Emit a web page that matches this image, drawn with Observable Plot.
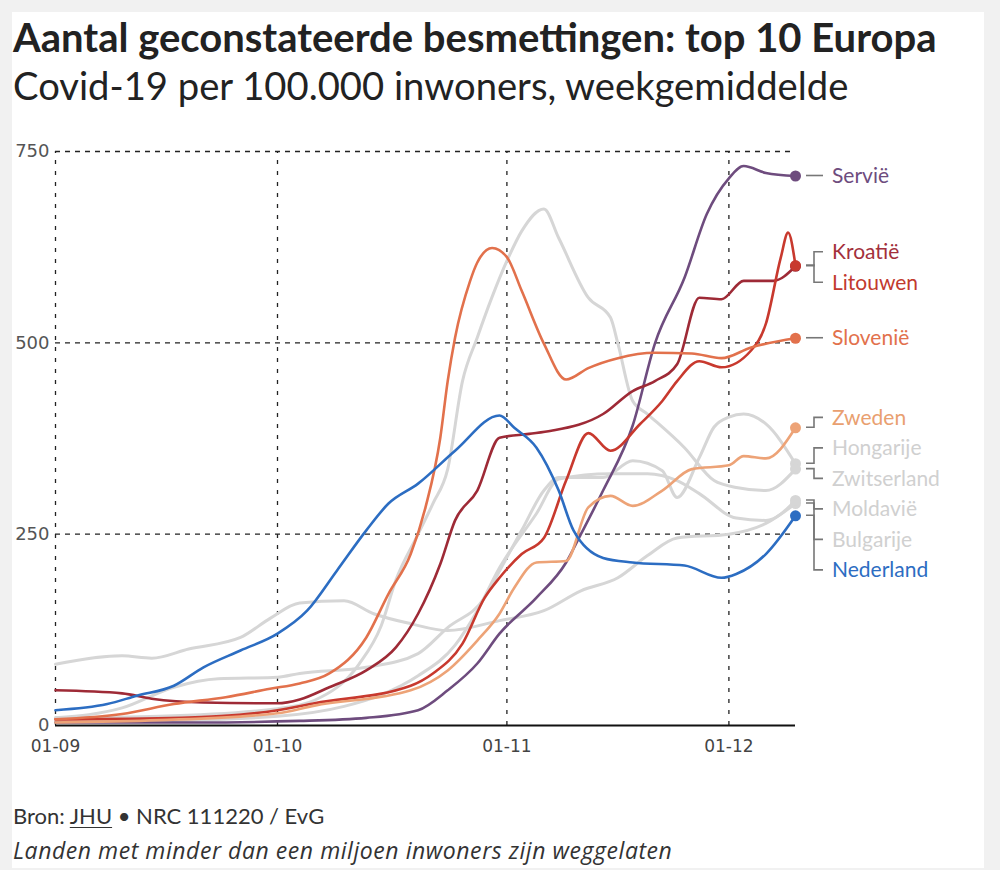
<!DOCTYPE html>
<html><head><meta charset="utf-8">
<script src="https://cdn.jsdelivr.net/npm/d3@7"></script>
<script src="https://cdn.jsdelivr.net/npm/@observablehq/plot@0.6"></script>
<style>
body{margin:0;background:#f1f1f1;width:1000px;height:870px;overflow:hidden;font-family:Lato,"Noto Sans",sans-serif;position:relative}
#card{position:absolute;left:12px;top:12px;width:972px;height:856px;background:#fff}
#title{position:absolute;left:13px;top:13px;font-weight:700;font-size:40px;line-height:48px;color:#222;white-space:nowrap}
#subtitle{position:absolute;left:13px;top:62px;font-size:38.2px;line-height:46px;color:#222;white-space:nowrap}
#chart{position:absolute;left:0;top:120px}
#src{position:absolute;left:13px;top:802px;font-size:22px;line-height:28px;color:#333;white-space:nowrap}
#src u{text-decoration-thickness:1px;text-underline-offset:3px}
#note{position:absolute;left:13px;top:835px;font-family:"Open Sans",sans-serif;font-size:23px;letter-spacing:0.55px;line-height:30px;font-style:italic;color:#333;white-space:nowrap}
</style></head>
<body>
<div id="card"></div>
<div id="title">Aantal geconstateerde besmettingen: top 10 Europa</div>
<div id="subtitle">Covid-19 per 100.000 inwoners, weekgemiddelde</div>
<div id="chart"></div>
<div id="src">Bron: <u>JHU</u> • NRC 111220 / EvG</div>
<div id="note">Landen met minder dan een miljoen inwoners zijn weggelaten</div>
<script>
// ---- data (date, cases per 100.000, weekly average) ----
const servie = [["2020-09-01",4],["2020-09-20",4],["2020-10-04",6],["2020-10-13",10],["2020-10-20",20],["2020-10-24",46],["2020-10-28",81],["2020-10-31",120],["2020-11-05",167],["2020-11-09",213],["2020-11-11",250],["2020-11-14",307],["2020-11-18",392],["2020-11-21",499],["2020-11-25",585],["2020-11-28",668],["2020-12-01",715],["2020-12-03",731],["2020-12-06",722],["2020-12-10",718]];
const kroatie = [["2020-09-01",46],["2020-09-10",42],["2020-09-14",35],["2020-09-21",30],["2020-10-01",29],["2020-10-04",34],["2020-10-08",50],["2020-10-13",72],["2020-10-17",102],["2020-10-20",146],["2020-10-23",211],["2020-10-25",268],["2020-10-28",307],["2020-10-31",376],["2020-11-04",381],["2020-11-07",385],["2020-11-14",407],["2020-11-18",437],["2020-11-21",450],["2020-11-24",472],["2020-11-27",559],["2020-11-30",557],["2020-12-03",581],["2020-12-07",581],["2020-12-10",600]];
const litouwen = [["2020-09-01",8],["2020-09-18",10],["2020-10-01",20],["2020-10-06",29],["2020-10-19",52],["2020-10-22",68],["2020-10-26",107],["2020-10-29",167],["2020-10-31",193],["2020-11-03",224],["2020-11-06",245],["2020-11-09",320],["2020-11-12",382],["2020-11-15",359],["2020-11-19",394],["2020-11-22",424],["2020-11-24",450],["2020-11-27",476],["2020-11-30",468],["2020-12-04",490],["2020-12-06",525],["2020-12-08",611],["2020-12-09",644],["2020-12-10",601]];
const slovenie = [["2020-09-01",8],["2020-09-10",15],["2020-09-17",28],["2020-09-24",37],["2020-09-30",48],["2020-10-04",55],["2020-10-08",68],["2020-10-13",115],["2020-10-16",172],["2020-10-19",224],["2020-10-21",285],["2020-10-23",376],["2020-10-24",450],["2020-10-25",507],["2020-10-27",580],["2020-10-28",605],["2020-10-30",624],["2020-11-01",612],["2020-11-03",568],["2020-11-06",499],["2020-11-09",452],["2020-11-12",467],["2020-11-16",480],["2020-11-21",487],["2020-11-26",486],["2020-11-30",480],["2020-12-04",494],["2020-12-10",506]];
const zweden = [["2020-09-01",4],["2020-09-15",7],["2020-10-01",16],["2020-10-06",26],["2020-10-19",46],["2020-10-24",72],["2020-10-28",111],["2020-10-31",146],["2020-11-02",180],["2020-11-05",213],["2020-11-09",215],["2020-11-12",285],["2020-11-15",300],["2020-11-18",287],["2020-11-22",307],["2020-11-26",335],["2020-12-01",340],["2020-12-03",352],["2020-12-06",349],["2020-12-10",389]];
const hongarije = [["2020-09-01",10],["2020-09-10",23],["2020-09-17",50],["2020-09-23",61],["2020-10-01",63],["2020-10-04",68],["2020-10-13",76],["2020-10-20",94],["2020-10-24",128],["2020-10-29",167],["2020-10-31",202],["2020-11-03",255],["2020-11-06",307],["2020-11-08",324],["2020-11-14",324],["2020-11-18",346],["2020-11-22",333],["2020-11-24",298],["2020-11-27",350],["2020-11-29",390],["2020-12-01",403],["2020-12-03",407],["2020-12-06",394],["2020-12-10",342]];
const zwitserland = [["2020-09-01",10],["2020-09-15",12],["2020-10-01",22],["2020-10-06",33],["2020-10-12",80],["2020-10-15",130],["2020-10-17",190],["2020-10-20",250],["2020-10-22",290],["2020-10-24",335],["2020-10-26",450],["2020-10-28",507],["2020-10-30",560],["2020-11-01",607],["2020-11-03",646],["2020-11-06",675],["2020-11-08",637],["2020-11-12",559],["2020-11-15",533],["2020-11-16",499],["2020-11-18",424],["2020-11-20",407],["2020-11-25",363],["2020-11-29",320],["2020-12-02",311],["2020-12-06",307],["2020-12-10",335]];
const moldavie = [["2020-09-01",80],["2020-09-10",91],["2020-09-14",88],["2020-09-19",100],["2020-09-26",115],["2020-09-30",140],["2020-10-04",160],["2020-10-10",163],["2020-10-14",146],["2020-10-19",133],["2020-10-24",124],["2020-10-31",137],["2020-11-06",150],["2020-11-11",176],["2020-11-16",193],["2020-11-20",222],["2020-11-24",245],["2020-12-01",250],["2020-12-06",264],["2020-12-10",290]];
const bulgarije = [["2020-09-01",5],["2020-09-15",6],["2020-10-01",12],["2020-10-10",25],["2020-10-15",40],["2020-10-20",65],["2020-10-25",105],["2020-10-28",150],["2020-10-31",206],["2020-11-05",277],["2020-11-08",322],["2020-11-15",329],["2020-11-20",329],["2020-11-24",320],["2020-11-27",303],["2020-12-02",271],["2020-12-06",268],["2020-12-10",294]];
const nederland = [["2020-09-01",20],["2020-09-08",28],["2020-09-12",39],["2020-09-17",52],["2020-09-21",76],["2020-09-26",98],["2020-10-01",120],["2020-10-05",150],["2020-10-09",202],["2020-10-13",255],["2020-10-16",290],["2020-10-20",316],["2020-10-25",359],["2020-10-31",405],["2020-11-02",389],["2020-11-05",363],["2020-11-08",307],["2020-11-10",255],["2020-11-14",219],["2020-11-18",213],["2020-11-25",209],["2020-11-30",193],["2020-12-02",198],["2020-12-06",224],["2020-12-10",274]];

const countries = ["Servië","Kroatië","Litouwen","Slovenië","Zweden","Hongarije","Zwitserland","Moldavië","Bulgarije","Nederland"];
const seriesData = [servie,kroatie,litouwen,slovenie,zweden,hongarije,zwitserland,moldavie,bulgarije,nederland];
const lineColors = ["#6e4c7e","#9e2a36","#c8392e","#e2714c","#eda377","#d6d6d6","#d6d6d6","#d6d6d6","#d6d6d6","#2c6dc2"];
const labelColors = ["#6e4c7e","#a3303c","#c23a2e","#e2714c","#e9a070","#d0d0d0","#d0d0d0","#d0d0d0","#d0d0d0","#2c6dc2"];
const yTicks = [0,250,500,750];
const xTicks = ["2020-09-01","2020-10-01","2020-11-01","2020-12-01"];
const xDomain = ["2020-09-01","2020-12-10"];

// ---- build rows ----
const parse = d3.utcParse("%Y-%m-%d");
const rows = [];
seriesData.forEach((s, i) => s.forEach(([d, v]) => rows.push({country: countries[i], date: parse(d), value: v, color: lineColors[i], grey: lineColors[i] === "#d6d6d6"})));
const lastRows = seriesData.map((s, i) => ({country: countries[i], date: parse(s[s.length-1][0]), value: s[s.length-1][1], color: lineColors[i], grey: lineColors[i] === "#d6d6d6"}));
const tickDates = xTicks.map(parse);
const fmt = d3.utcFormat("%d-%m");

const plot = Plot.plot({
  width: 1000, height: 650,
  marginLeft: 55, marginRight: 205, marginTop: 31, marginBottom: 45,
  style: {fontFamily: "DejaVu Sans, sans-serif", fontSize: "16px", background: "transparent", overflow: "visible"},
  x: {type: "utc", domain: xDomain.map(parse), axis: null},
  y: {domain: [0, 750], axis: null},
  color: {type: "identity"},
  marks: [
    Plot.ruleY(yTicks.filter(d => d > 0), {stroke: "#222", strokeWidth: 1.3, strokeDasharray: "5,5"}),
    Plot.ruleX(tickDates, {x: d => d, y1: 0, y2: 750, stroke: "#222", strokeWidth: 1.3, strokeDasharray: "4,7"}),
    Plot.line(rows.filter(d => d.grey), {x: "date", y: "value", z: "country", stroke: "color", strokeWidth: 3, curve: "monotone-x"}),
    Plot.line(rows.filter(d => !d.grey), {x: "date", y: "value", z: "country", stroke: "color", strokeWidth: 2.6, curve: "monotone-x"}),
    Plot.dot(lastRows, {x: "date", y: "value", fill: "color", r: 5.5}),
    Plot.ruleY([0], {stroke: "#111", strokeWidth: 2}),
    Plot.text(yTicks, {x: () => parse(xDomain[0]), y: d => d, text: d => String(d), dx: -6, textAnchor: "end", fill: "#555", fontSize: 18}),
    Plot.text(tickDates, {x: d => d, y: () => 0, text: d => fmt(d), dy: 21, fill: "#444", fontSize: 17})
  ]
});
document.getElementById("chart").appendChild(plot);

// ---- end labels with leader lines ----
const ys = plot.scale("y"), xs = plot.scale("x");
const gap = 30.5;
const targets = lastRows.map(d => ys.apply(d.value));
const pos = [];
targets.forEach((t, i) => pos.push(i === 0 ? t : Math.max(t, pos[i-1] + gap)));
let start = 0;
for (let i = 1; i <= pos.length; i++) {
  if (i === pos.length || pos[i] - pos[i-1] > gap + 0.01) {
    if (i - start > 1) {
      const mp = d3.mean(pos.slice(start, i)), mt = d3.mean(targets.slice(start, i));
      const sh = (i - start > 2 ? 0.45 : 0.9) * (mp - mt);
      for (let k = start; k < i; k++) pos[k] -= sh;
    }
    start = i;
  }
}
for (let i = pos.length - 2; i >= 0; i--) pos[i] = Math.min(pos[i], pos[i+1] - gap);

const svg = d3.select(plot);
const xEnd = xs.apply(parse(xDomain[1]));
const x0 = xEnd + 11, xm = xEnd + 19, x1 = xEnd + 28, xt = xEnd + 37;
const g = svg.append("g").attr("text-anchor", "start");
lastRows.forEach((d, i) => {
  const ty = targets[i], ly = pos[i];
  g.append("path")
    .attr("d", `M${x0},${ty}H${xm}V${ly}H${x1}`)
    .attr("fill", "none").attr("stroke", "#777").attr("stroke-width", 1.6);
  g.append("text")
    .attr("x", xt).attr("y", ly).attr("dy", "0.35em")
    .attr("text-anchor", "start")
    .attr("fill", labelColors[i])
    .style("font-family", "Lato, 'Noto Sans', sans-serif")
    .style("font-size", "21px")
    .text(d.country);
});
</script>
</body></html>
